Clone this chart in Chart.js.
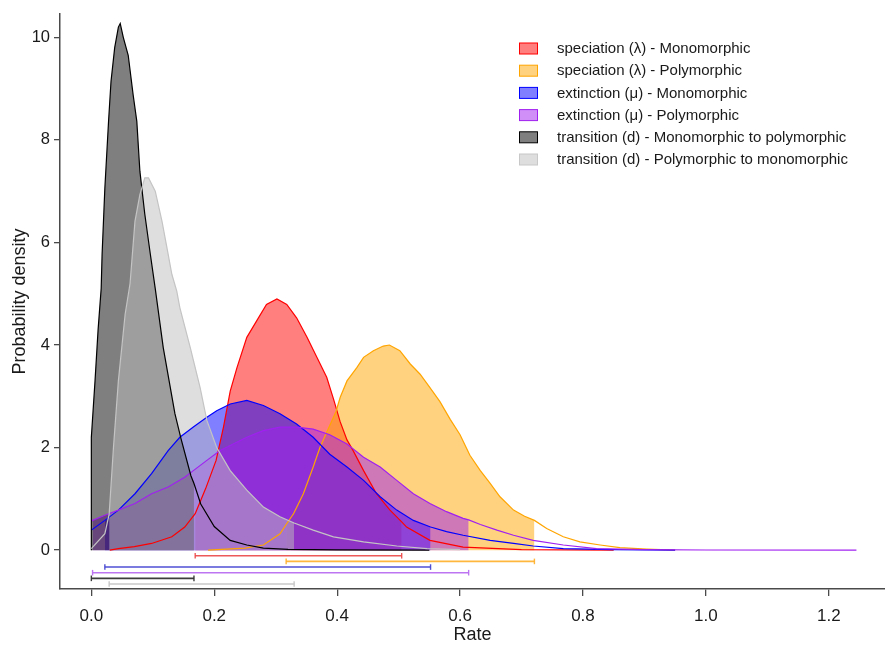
<!DOCTYPE html>
<html>
<head>
<meta charset="utf-8">
<script src="https://cdn.jsdelivr.net/npm/chart.js@4.4.1/dist/chart.umd.min.js"></script>
<style>
  html, body { margin: 0; padding: 0; background: #ffffff; }
  #c { display: block; }
</style>
</head>
<body>
<canvas id="c" width="885" height="645" style="width:885px;height:645px"></canvas>
<script>
// ---------------- data ----------------
const seriesLabels = [
  'speciation (\u03bb) - Monomorphic',
  'speciation (\u03bb) - Polymorphic',
  'extinction (\u03bc) - Monomorphic',
  'extinction (\u03bc) - Polymorphic',
  'transition (d) - Monomorphic to polymorphic',
  'transition (d) - Polymorphic to monomorphic'
];

const xTickValues = [0, 0.2, 0.4, 0.6, 0.8, 1.0, 1.2];
const yTickValues = [0, 2, 4, 6, 8, 10];

// speciation - monomorphic
const redX = [0.03, 0.044, 0.07, 0.098, 0.131, 0.152, 0.169, 0.186, 0.203, 0.215, 0.226, 0.237, 0.253, 0.269, 0.285, 0.302, 0.318, 0.334, 0.351, 0.367, 0.383, 0.394, 0.405, 0.416, 0.426, 0.443, 0.464, 0.486, 0.505, 0.513, 0.551, 0.605, 0.7, 0.85];
const redY = [0, 0.03, 0.07, 0.13, 0.26, 0.45, 0.71, 1.2, 1.75, 2.4, 3.1, 3.56, 4.15, 4.47, 4.79, 4.9, 4.79, 4.53, 4.15, 3.76, 3.37, 2.95, 2.5, 2.15, 1.94, 1.55, 1.1, 0.78, 0.55, 0.45, 0.19, 0.06, 0.01, 0];
const redHPD = [0.169, 0.505];

// speciation - polymorphic
const orangeX = [0.19, 0.25, 0.28, 0.307, 0.317, 0.329, 0.345, 0.361, 0.372, 0.383, 0.398, 0.405, 0.416, 0.432, 0.443, 0.459, 0.475, 0.485, 0.502, 0.519, 0.535, 0.551, 0.567, 0.584, 0.6, 0.616, 0.633, 0.649, 0.665, 0.687, 0.705, 0.721, 0.741, 0.768, 0.795, 0.828, 0.86, 0.904, 0.95];
const orangeY = [0, 0.04, 0.1, 0.32, 0.5, 0.71, 1.1, 1.62, 2.0, 2.3, 2.7, 2.98, 3.3, 3.56, 3.76, 3.89, 3.98, 4.0, 3.89, 3.63, 3.43, 3.17, 2.9, 2.55, 2.25, 1.85, 1.55, 1.3, 1.04, 0.78, 0.66, 0.58, 0.42, 0.26, 0.16, 0.1, 0.05, 0.02, 0];
const orangeHPD = [0.317, 0.721];

// extinction - monomorphic
const blueX = [0, 0.022, 0.044, 0.071, 0.098, 0.125, 0.144, 0.166, 0.188, 0.204, 0.226, 0.253, 0.28, 0.307, 0.334, 0.361, 0.388, 0.416, 0.443, 0.47, 0.497, 0.524, 0.552, 0.578, 0.605, 0.649, 0.687, 0.719, 0.768, 0.85, 0.95];
const blueY = [0.39, 0.58, 0.78, 1.1, 1.49, 1.94, 2.2, 2.4, 2.59, 2.72, 2.85, 2.92, 2.82, 2.66, 2.46, 2.2, 1.87, 1.62, 1.36, 1.04, 0.78, 0.58, 0.45, 0.36, 0.29, 0.19, 0.13, 0.08, 0.03, 0.01, 0];
const blueHPD = [0.022, 0.552];

// extinction - polymorphic
const purpleX = [0, 0.002, 0.022, 0.044, 0.071, 0.098, 0.125, 0.152, 0.166, 0.188, 0.209, 0.231, 0.253, 0.28, 0.307, 0.334, 0.361, 0.388, 0.416, 0.443, 0.47, 0.497, 0.524, 0.551, 0.578, 0.605, 0.614, 0.633, 0.66, 0.687, 0.719, 0.768, 0.822, 0.9, 1.0, 1.245];
const purpleY = [0.56, 0.58, 0.68, 0.78, 0.91, 1.1, 1.23, 1.42, 1.55, 1.75, 1.94, 2.07, 2.2, 2.33, 2.4, 2.4, 2.36, 2.25, 2.07, 1.81, 1.62, 1.36, 1.1, 0.91, 0.75, 0.62, 0.59, 0.5, 0.39, 0.29, 0.19, 0.1, 0.03, 0.01, 0.003, 0];
const purpleHPD = [0.002, 0.614];

// transition - monomorphic to polymorphic
const blackX = [0, 0, 0.006, 0.011, 0.016, 0.0175, 0.022, 0.028, 0.032, 0.038, 0.044, 0.047, 0.052, 0.06, 0.068, 0.074, 0.079, 0.087, 0.096, 0.104, 0.117, 0.136, 0.146, 0.162, 0.167, 0.178, 0.2, 0.226, 0.253, 0.28, 0.32, 0.4, 0.55];
const blackY = [0, 2.2, 3.3, 4.3, 5.1, 5.77, 7.06, 8.36, 9.14, 9.8, 10.2, 10.27, 10.0, 9.65, 8.88, 8.36, 7.39, 6.55, 5.77, 5.1, 3.95, 2.66, 2.17, 1.45, 1.3, 0.9, 0.46, 0.19, 0.1, 0.04, 0.015, 0.005, 0];
const blackHPD = [0, 0.167];

// transition - polymorphic to monomorphic
const grayX = [0, 0.022, 0.029, 0.036, 0.044, 0.055, 0.063, 0.071, 0.079, 0.087, 0.093, 0.104, 0.115, 0.123, 0.131, 0.139, 0.144, 0.161, 0.177, 0.188, 0.204, 0.226, 0.253, 0.28, 0.307, 0.33, 0.361, 0.394, 0.443, 0.497, 0.546, 0.6];
const grayY = [0.03, 0.32, 0.7, 2.0, 3.3, 4.6, 5.2, 6.41, 6.93, 7.26, 7.26, 7.0, 6.41, 5.9, 5.38, 5.05, 4.73, 3.95, 3.17, 2.53, 2.0, 1.55, 1.17, 0.84, 0.65, 0.53, 0.39, 0.26, 0.16, 0.08, 0.03, 0.01];
const grayHPD = [0.029, 0.33];

// ---------------- styles ----------------
const styles = [
  { line: '#FF0000', fill: 'rgba(255,0,0,0.5)',     bar: 'rgba(235,70,70,0.9)',   swatchBorder: '#FF0000' },
  { line: '#FFA500', fill: 'rgba(255,165,0,0.5)',   bar: 'rgba(255,175,40,0.9)',  swatchBorder: '#FFA500' },
  { line: '#0000FF', fill: 'rgba(0,0,255,0.5)',     bar: 'rgba(70,70,210,0.95)',  swatchBorder: '#0000FF' },
  { line: '#A020F0', fill: 'rgba(160,32,240,0.5)',  bar: 'rgba(185,110,240,0.95)',swatchBorder: '#A020F0' },
  { line: '#000000', fill: 'rgba(0,0,0,0.5)',       bar: 'rgba(50,50,50,0.95)',   swatchBorder: '#000000' },
  { line: '#C4C4C4', fill: 'rgba(190,190,190,0.5)', bar: 'rgba(200,200,200,1)',   swatchBorder: '#C8C8C8' }
];

const seriesData = [
  [redX, redY, redHPD],
  [orangeX, orangeY, orangeHPD],
  [blueX, blueY, blueHPD],
  [purpleX, purpleY, purpleHPD],
  [blackX, blackY, blackHPD],
  [grayX, grayY, grayHPD]
];

// Drawing order: higher "order" is drawn first.
// All HPD fills (red..gray), then all outlines, then the HPD bars on top.
const datasets = [];
seriesData.forEach(([xs, ys, hpd], i) => {
  const pts = xs.map((x, k) => ({ x: x, y: ys[k] }));
  const st = styles[i];
  datasets.push({
    label: seriesLabels[i] + ' HPD area',
    data: pts.filter(p => p.x >= hpd[0] && p.x <= hpd[1]),
    borderWidth: 0,
    borderColor: 'rgba(0,0,0,0)',
    backgroundColor: st.fill,
    fill: 'origin',
    pointRadius: 0,
    tension: 0,
    order: 200 - i
  });
  datasets.push({
    label: seriesLabels[i],
    data: pts,
    borderWidth: 1.2,
    borderColor: st.line,
    backgroundColor: st.fill,
    fill: false,
    pointRadius: 0,
    tension: 0,
    order: 100 - i
  });
  const level = -(i + 1) * 0.11;
  datasets.push({
    label: seriesLabels[i] + ' HPD',
    data: [{ x: hpd[0], y: level }, { x: hpd[1], y: level }],
    borderWidth: 1.6,
    borderColor: st.bar,
    backgroundColor: st.bar,
    fill: false,
    pointStyle: 'line',
    pointRotation: 90,
    pointRadius: 2.8,
    pointBorderWidth: 1.4,
    pointBorderColor: st.bar,
    tension: 0,
    order: 10 - i
  });
});

const FONT = "'Liberation Sans', Arial, Helvetica, sans-serif";
const axisColor = '#4a4a4a';

// legend in the top right of the plot
const legendPlugin = {
  id: 'hpdLegend',
  afterDraw(chart) {
    const ctx = chart.ctx;
    ctx.save();
    ctx.font = '15px ' + FONT;
    ctx.textBaseline = 'middle';
    ctx.textAlign = 'left';
    seriesLabels.forEach((lab, i) => {
      const cy = 48.5 + i * 22.2;
      ctx.fillStyle = styles[i].fill;
      ctx.fillRect(519.5, cy - 5.5, 18, 11);
      ctx.strokeStyle = styles[i].swatchBorder;
      ctx.lineWidth = 1;
      ctx.strokeRect(519.5, cy - 5.5, 18, 11);
      ctx.fillStyle = '#1a1a1a';
      ctx.fillText(lab, 557, cy + 0.5);
    });
    ctx.restore();
  }
};

new Chart(document.getElementById('c'), {
  type: 'line',
  data: { datasets: datasets },
  options: {
    responsive: false,
    animation: false,
    events: [],
    layout: { autoPadding: false, padding: { top: 12, right: 0, bottom: 0, left: 0 } },
    plugins: {
      legend: { display: false },
      tooltip: { enabled: false },
      title: { display: false }
    },
    scales: {
      x: {
        type: 'linear',
        min: -0.051,
        max: 1.2915,
        afterBuildTicks: s => { s.ticks = xTickValues.map(v => ({ value: v })); },
        afterFit: s => { s.height = 56; },
        ticks: {
          callback: v => Number(v).toFixed(1),
          font: { family: FONT, size: 17 },
          color: '#1a1a1a',
          padding: 10,
          maxRotation: 0,
          autoSkip: false
        },
        grid: { drawOnChartArea: false, drawTicks: true, tickLength: 7, color: axisColor, tickColor: axisColor, lineWidth: 1.3 },
        border: { display: true, color: axisColor, width: 1.5 },
        title: { display: true, text: 'Rate', font: { family: FONT, size: 18 }, color: '#1a1a1a', padding: { top: 0, bottom: -1 } }
      },
      y: {
        type: 'linear',
        min: -0.758,
        max: 10.457,
        afterBuildTicks: s => { s.ticks = yTickValues.map(v => ({ value: v })); },
        afterFit: s => { s.width = 60; },
        ticks: {
          callback: v => String(v),
          font: { family: FONT, size: 16.5 },
          color: '#1a1a1a',
          padding: 4,
          autoSkip: false
        },
        grid: { drawOnChartArea: false, drawTicks: true, tickLength: 6, color: axisColor, tickColor: axisColor, lineWidth: 1.3 },
        border: { display: true, color: axisColor, width: 1.5 },
        title: { display: true, text: 'Probability density', font: { family: FONT, size: 18 }, color: '#1a1a1a', padding: { top: 9, bottom: 0 } }
      }
    }
  },
  plugins: [legendPlugin]
});
</script>
</body>
</html>
